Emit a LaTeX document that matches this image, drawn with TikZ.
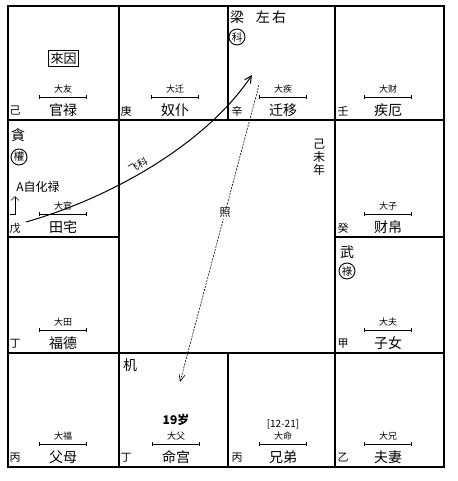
\documentclass[tikz,border=0pt]{standalone}
\usepackage{fontspec}
\setmainfont{Noto Sans CJK SC}
\usetikzlibrary{arrows.meta}

\tikzset{
  board/.style={line width=1.3pt},
  palace/.style={font=\fontsize{14}{14}\selectfont, inner sep=0pt},
  stem/.style={font=\fontsize{11}{11}\selectfont, inner sep=0pt},
  minor/.style={font=\fontsize{9}{9}\selectfont, inner sep=0pt},
  star/.style={font=\fontsize{14}{14}\selectfont, inner sep=0pt},
  hua/.style={circle, draw, line width=0.9pt, inner sep=0pt, minimum size=16pt, font=\fontsize{10.5}{10.5}\selectfont},
  bar/.style={line width=0.7pt, {Bar[width=4pt]}-{Bar[width=4pt]}},
}

\begin{document}
\begin{tikzpicture}[x=1pt,y=-1pt]
        \useasboundingbox (0,0) rectangle (457,481);
        \draw[board] (8,6) rectangle (444,467);
        \draw[board] (8,120) -- (444,120) (8,353) -- (444,353)
                (8,237) -- (119,237) (335,237) -- (444,237)
                (119,6) -- (119,467) (335,6) -- (335,467)
                (228,6) -- (228,120) (228,353) -- (228,467);

        \node[palace] (guanlu) at (63,110) {官禄};
        \node[stem] (guanlu-s) at (15,111) {己};
        \node[minor] (guanlu-d) at (63,89) {大友};
        \draw[bar] (39,97) -- (87,97);
        \node[palace] (nupu) at (175,110) {奴仆};
        \node[stem] (nupu-s) at (126,111) {庚};
        \node[minor] (nupu-d) at (175,89) {大迁};
        \draw[bar] (151,97) -- (199,97);
        \node[palace] (qianyi) at (283,110) {迁移};
        \node[stem] (qianyi-s) at (237,111) {辛};
        \node[minor] (qianyi-d) at (283,89) {大疾};
        \draw[bar] (259,97) -- (307,97);
        \node[palace] (jie) at (388,110) {疾厄};
        \node[stem] (jie-s) at (343,111) {壬};
        \node[minor] (jie-d) at (388,89) {大财};
        \draw[bar] (364,97) -- (412,97);

        \node[palace] (tianzhai) at (63,227) {田宅};
        \node[stem] (tianzhai-s) at (15,228) {戊};
        \node[minor] (tianzhai-d) at (63,206) {大官};
        \draw[bar] (39,214) -- (87,214);
        \node[palace] (caibo) at (388,227) {财帛};
        \node[stem] (caibo-s) at (343,228) {癸};
        \node[minor] (caibo-d) at (388,206) {大子};
        \draw[bar] (364,214) -- (412,214);

        \node[palace] (fude) at (63,343) {福德};
        \node[stem] (fude-s) at (15,344) {丁};
        \node[minor] (fude-d) at (63,322) {大田};
        \draw[bar] (39,330) -- (87,330);
        \node[palace] (zinv) at (388,343) {子女};
        \node[stem] (zinv-s) at (343,344) {甲};
        \node[minor] (zinv-d) at (388,322) {大夫};
        \draw[bar] (364,330) -- (412,330);

        \node[palace] (fumu) at (63,457) {父母};
        \node[stem] (fumu-s) at (15,458) {丙};
        \node[minor] (fumu-d) at (63,436) {大福};
        \draw[bar] (39,444) -- (87,444);
        \node[palace] (minggong) at (176,457) {命宫};
        \node[stem] (minggong-s) at (126,458) {丁};
        \node[minor] (minggong-d) at (176,436) {大父};
        \draw[bar] (152,444) -- (200,444);
        \node[palace] (xiongdi) at (283,457) {兄弟};
        \node[stem] (xiongdi-s) at (237,458) {丙};
        \node[minor] (xiongdi-d) at (283,436) {大命};
        \draw[bar] (259,444) -- (307,444);
        \node[palace] (fuqi) at (388,457) {夫妻};
        \node[stem] (fuqi-s) at (343,458) {乙};
        \node[minor] (fuqi-d) at (388,436) {大兄};
        \draw[bar] (364,444) -- (412,444);

        \node[stem, font=\fontsize{12}{12}\selectfont\bfseries] (age) at (176,420) {19岁};
        \node[minor, font=\fontsize{10}{10}\selectfont] (span) at (283,424) {[12-21]};
        \node[draw, line width=0.9pt, inner sep=2pt, font=\fontsize{13}{13}\selectfont] (laiyin) at (63.5,58.5) {來因};

        \node[star] (tan) at (18,135) {貪};
        \node[hua] (quan) at (19,157) {權};
        \node[star] (wu) at (347,252) {武};
        \node[hua] (lu) at (347,271) {祿};
        \node[star] (liang) at (237,17) {梁};
        \node[hua] (ke) at (237,37) {科};
        \node[star] (zuoyou) at (271,17) {左\,右};
        \node[star] (ji) at (130,365) {机};
        \node[star, align=center, font=\fontsize{12}{13}\selectfont] (year) at (319,157) {己\\未\\年};

        \node[stem, font=\fontsize{12}{12}\selectfont] (zihua) at (38,187) {A自化禄};
        \coordinate (zh1) at (10,214);
        \coordinate (zh2) at (15,214);
        \coordinate (zh3) at (15,196);
        \draw[line width=0.7pt, -{Straight Barb[length=4pt]}] (zh1) -- (zh2) -- (zh3);

        \coordinate (feiS) at (26,222);
        \coordinate (feiE) at (252,75);
        \draw[line width=1pt, -{Straight Barb[length=7pt,width=7pt]}] (feiS) .. controls (110,198) and (205,145) .. (feiE);
        \node[minor, rotate=28, font=\fontsize{10}{10}\selectfont] (feike) at (138,165) {飞科};

        \coordinate (zhaoS) at (259,85);
        \coordinate (zhaoE) at (180,382);
        \draw[line width=0.6pt, dash pattern=on 2pt off 1.2pt, -{Straight Barb[length=7pt,width=6pt]}] (zhaoS) -- (zhaoE)
                node[pos=0.43, minor, fill=white, inner sep=1pt, font=\fontsize{11}{11}\selectfont] (zhao) {照};
\end{tikzpicture}
\end{document}
